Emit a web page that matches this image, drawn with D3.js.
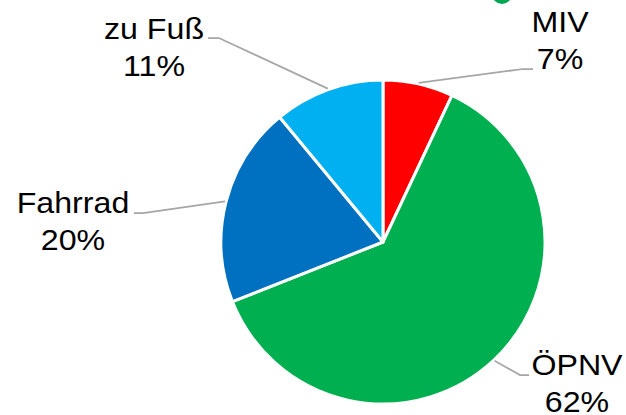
<!DOCTYPE html>
<html>
<head>
<meta charset="utf-8">
<script src="https://cdn.jsdelivr.net/npm/d3@7/dist/d3.min.js"></script>
<style>
  html, body { margin: 0; padding: 0; background: #fff; }
  svg { display: block; }
  text { font-family: Arial, "Liberation Sans", sans-serif; fill: #000; }
</style>
</head>
<body>
<svg id="chart" width="626" height="415"></svg>
<script>
// Modal split data (share of trips, %)
const categories = ["MIV", "ÖPNV", "Fahrrad", "zu Fuß"];
const shares = [7, 62, 20, 11];
const colors = ["#ff0000", "#00b050", "#0070c0", "#00b0f0"];

const W = 626, H = 415;
const cx = 383, cy = 242, R = 162;

// Label layout: elbow of leader line, end of horizontal segment, text anchor
const labelLayout = {
  "MIV":    { elbow: [523, 69],  end: [533, 69],  text: [560, 32] },
  "ÖPNV":   { elbow: [520, 375], end: [529, 375], text: [577, 375] },
  "Fahrrad":{ elbow: [143, 213], end: [134, 213], text: [73, 213] },
  "zu Fuß": { elbow: [219, 38],  end: [208, 38],  text: [154, 39] }
};

const svg = d3.select("#chart");

// small marker partially visible at the top edge
svg.append("ellipse")
  .attr("cx", 502).attr("cy", -6).attr("rx", 10).attr("ry", 10)
  .attr("fill", "#00a550");

const data = categories.map((c, i) => ({ cat: c, value: shares[i], color: colors[i] }));

const pie = d3.pie().value(d => d.value).sort(null);
const arc = d3.arc().innerRadius(0).outerRadius(R);
const arcs = pie(data);

const g = svg.append("g").attr("transform", `translate(${cx},${cy})`);

g.selectAll("path.slice")
  .data(arcs)
  .join("path")
  .attr("class", "slice")
  .attr("d", arc)
  .attr("fill", d => d.data.color)
  .attr("stroke", "#fff")
  .attr("stroke-width", 3)
  .attr("stroke-linejoin", "round");

// Leader lines from slice mid-angle on the rim
const lines = svg.append("g");
arcs.forEach(a => {
  const mid = (a.startAngle + a.endAngle) / 2;
  const sx = cx + Math.sin(mid) * (R + 1);
  const sy = cy - Math.cos(mid) * (R + 1);
  const L = labelLayout[a.data.cat];
  lines.append("polyline")
    .attr("points", [[sx, sy], L.elbow, L.end].map(p => p.join(",")).join(" "))
    .attr("fill", "none")
    .attr("stroke", "#a6a6a6")
    .attr("stroke-width", 1.75);
});

// Labels: category name and percentage (slightly widened glyphs)
const fmt = d3.format(".0%");
const labels = svg.append("g");
arcs.forEach(a => {
  const L = labelLayout[a.data.cat];
  const t = labels.append("text")
    .attr("transform", `translate(${L.text[0]},${L.text[1]}) scale(1.09,1)`)
    .attr("text-anchor", "middle")
    .attr("font-size", 29.5);
  t.append("tspan").attr("x", 0).attr("y", 0).text(a.data.cat);
  t.append("tspan").attr("x", 0).attr("dy", 37).text(fmt(a.data.value / 100));
});
</script>
</body>
</html>
